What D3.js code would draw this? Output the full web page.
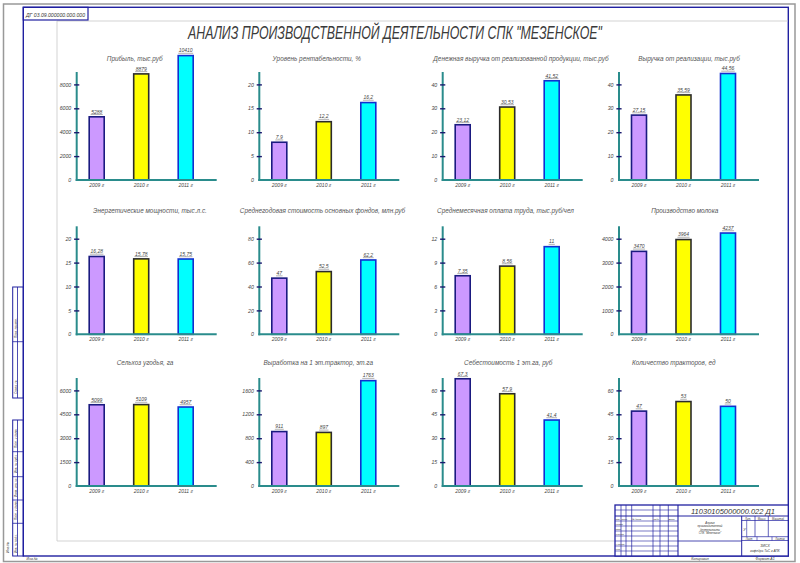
<!DOCTYPE html>
<html>
<head>
<meta charset="utf-8">
<script src="https://cdn.jsdelivr.net/npm/d3@7/dist/d3.min.js"></script>
<style>
    body { margin: 0; background: #fff; }
    text { font-family: "Liberation Sans", Arial, sans-serif; font-style: italic; }
</style>
</head>
<body>
<svg id="sheet" width="800" height="563"></svg>
<script>

// ---- data ----
const sheetTitle = "АНАЛИЗ ПРОИЗВОДСТВЕННОЙ ДЕЯТЕЛЬНОСТИ СПК \"МЕЗЕНСКОЕ\"";
const years = ["2009 г", "2010 г", "2011 г"];

const chartTitles = [
    "Прибыль, тыс.руб",
    "Уровень рентабельности, %",
    "Денежная выручка от реализованной продукции, тыс.руб",
    "Выручка от реализации, тыс.руб",
    "Энергетические мощности, тыс.л.с.",
    "Среднегодовая стоимость основных фондов, млн.руб",
    "Среднемесячная оплата труда, тыс.руб/чел",
    "Производство молока",
    "Сельхоз угодья, га",
    "Выработка на 1 эт.трактор, эт.га",
    "Себестоимость 1 эт.га, руб",
    "Количество тракторов, ед"
];

const profit = [5288, 8879, 10410];
const profitability = [7.9, 12.2, 16.2];
const salesProceeds = [23.12, 30.53, 41.52];
const revenue = [27.15, 35.59, 44.56];
const enginePower = [16.28, 15.78, 15.75];
const fixedAssets = [47, 52.5, 62.2];
const monthlyPay = [7.35, 8.56, 11];
const milkOutput = [3470, 3964, 4237];
const farmland = [5099, 5109, 4957];
const tractorOutput = [911, 897, 1763];
const costPerHa = [67.3, 57.9, 41.4];
const tractorCount = [47, 53, 50];

const chartValues = [profit, profitability, salesProceeds, revenue,
    enginePower, fixedAssets, monthlyPay, milkOutput,
    farmland, tractorOutput, costPerHa, tractorCount];

// y tick step of every chart (four ticks above zero)
const tickSteps = [2000, 5, 10, 10, 5, 20, 3, 1000, 1500, 400, 15, 15];

const barFills = ["#cc99ff", "#ffff00", "#00ffff"];
const barStrokes = ["#1a1a80", "#2b2b2b", "#1030d0"];


// ---- layout of the sheet ----
const colAxisX = [76.7, 259.3, 442.7, 619];
const rowBaseY = [180, 334.3, 486];
const titleCx = [134.7, 316.7, 521, 689, 150, 322.5, 505.5, 684.7, 145, 318.3, 508.3, 673.8];
const titleY = [61, 212.5, 365];
const tickGap = 23.9;
const axisColor = "#2a8c8c";
const tickColor = "#1a1a6e";
const frameBlue = "#2020a0";

const svg = d3.select("#sheet");

drawFrame();

svg.append("text")
    .attr("x", 188)
    .attr("y", 38.5)
    .attr("textLength", 414)
    .attr("lengthAdjust", "spacingAndGlyphs")
    .attr("font-size", 18)
    .attr("fill", "#3a3a3a")
    .text(sheetTitle);

chartValues.forEach((values, i) => drawChart(i, values));


function drawChart(i, values) {
    const col = i % 4;
    const row = Math.floor(i / 4);
    const ax = colAxisX[col];
    const base = rowBaseY[row];
    const step = tickSteps[i];

    const g = svg.append("g");

    const yScale = d3.scaleLinear()
        .domain([0, step * 4])
        .range([base, base - tickGap * 4]);

    const xScale = d3.scalePoint()
        .domain(years)
        .range([ax + 20, ax + 109]);

    g.append("text")
        .attr("x", titleCx[i])
        .attr("y", titleY[row])
        .attr("text-anchor", "middle")
        .attr("font-size", 6.4)
        .attr("fill", "#555")
        .text(chartTitles[i]);

    // bars
    g.selectAll("rect.bar")
        .data(values)
        .enter()
        .append("rect")
        .attr("class", "bar")
        .attr("x", (d, j) => xScale(years[j]) - 7.5)
        .attr("width", 15)
        .attr("y", d => yScale(d))
        .attr("height", d => base - yScale(d))
        .attr("fill", (d, j) => barFills[j])
        .attr("stroke", (d, j) => barStrokes[j])
        .attr("stroke-width", 1.6);

    // value labels with a short shelf line under them
    values.forEach((v, j) => {
        const label = g.append("text")
            .attr("x", xScale(years[j]))
            .attr("y", yScale(v) - 3.2)
            .attr("text-anchor", "middle")
            .attr("font-size", 5)
            .attr("fill", "#444")
            .text(String(v).replace(".", ","));
        const w = label.node().getComputedTextLength();
        g.append("line")
            .attr("x1", xScale(years[j]) - w / 2 - 0.5)
            .attr("x2", xScale(years[j]) + w / 2 + 0.5)
            .attr("y1", yScale(v) - 2.3)
            .attr("y2", yScale(v) - 2.3)
            .attr("stroke", "#666")
            .attr("stroke-width", 0.5);
    });

    // axes
    g.append("line")
        .attr("x1", ax).attr("x2", ax)
        .attr("y1", base + 1).attr("y2", base - 108)
        .attr("stroke", axisColor).attr("stroke-width", 2);
    g.append("line")
        .attr("x1", ax - 1).attr("x2", ax + 140)
        .attr("y1", base).attr("y2", base)
        .attr("stroke", axisColor).attr("stroke-width", 2);

    const yAxis = g.append("g")
        .attr("transform", `translate(${ax},0)`)
        .call(d3.axisLeft(yScale)
            .tickValues(d3.range(0, step * 5, step))
            .tickSize(0)
            .tickPadding(5.5)
            .tickFormat(d => d));
    yAxis.select(".domain").remove();
    yAxis.selectAll(".tick text")
        .attr("font-size", 5.2)
        .attr("fill", "#444")
        .style("font-family", "Liberation Sans, Arial, sans-serif")
        .style("font-style", "italic");
    yAxis.selectAll(".tick")
        .filter(d => d > 0)
        .append("line")
        .attr("x1", -2.6).attr("x2", 2.6)
        .attr("stroke", tickColor).attr("stroke-width", 1.4);

    g.selectAll("text.year")
        .data(years)
        .enter()
        .append("text")
        .attr("class", "year")
        .attr("x", d => xScale(d))
        .attr("y", base + 6.5)
        .attr("text-anchor", "middle")
        .attr("font-size", 5)
        .attr("fill", "#444")
        .text(d => d);
}


function line(x1, y1, x2, y2, color, w) {
    svg.append("line")
        .attr("x1", x1).attr("y1", y1).attr("x2", x2).attr("y2", y2)
        .attr("stroke", color).attr("stroke-width", w);
}

function label(x, y, size, txt, anchor, rotate) {
    const t = svg.append("text")
        .attr("x", x).attr("y", y)
        .attr("font-size", size)
        .attr("fill", "#333")
        .attr("text-anchor", anchor || "start")
        .text(txt);
    if (rotate) t.attr("transform", `rotate(-90, ${x}, ${y})`);
    return t;
}


function drawFrame() {
    // sheet edge
    svg.append("rect")
        .attr("x", 3.5).attr("y", 4).attr("width", 791.5).attr("height", 557.5)
        .attr("fill", "none").attr("stroke", "#999").attr("stroke-width", 1.5);

    // drawing frame
    svg.append("rect")
        .attr("x", 23.3).attr("y", 7.3).attr("width", 765).attr("height", 548.7)
        .attr("fill", "none").attr("stroke", frameBlue).attr("stroke-width", 1.4);

    // thin inner field
    line(57, 21, 788, 21, "#c8c8c8", 0.8);
    line(57, 21, 57, 541, "#c8c8c8", 0.8);
    line(57, 541, 615, 541, "#c8c8c8", 0.8);

    // top-left stamp box
    svg.append("rect")
        .attr("x", 23.3).attr("y", 7.3).attr("width", 64.7).attr("height", 12.7)
        .attr("fill", "none").attr("stroke", frameBlue).attr("stroke-width", 1.2);
    label(26, 16.5, 5, "ДГ 03.09.000000.000.000").attr("textLength", 59).attr("lengthAdjust", "spacingAndGlyphs");

    // left margin strip
    [[287, 398, [341.7]], [420, 556, [451.7, 476.7, 500, 523.3]]].forEach(([y0, y1, cuts]) => {
        svg.append("rect")
            .attr("x", 12.7).attr("y", y0).attr("width", 10.6).attr("height", y1 - y0)
            .attr("fill", "none").attr("stroke", frameBlue).attr("stroke-width", 1);
        line(17.5, y0, 17.5, y1, frameBlue, 0.8);
        cuts.forEach(c => line(12.7, c, 23.3, c, frameBlue, 0.8));
    });
    label(16.5, 338, 3, "Перв. примен.", "start", true);
    label(16.5, 394, 3, "Справ. №", "start", true);
    label(16.5, 448, 3, "Подп. и дата", "start", true);
    label(16.5, 473, 3, "Инв. № дубл.", "start", true);
    label(16.5, 497, 3, "Взам. инв. №", "start", true);
    label(16.5, 520, 3, "Подп. и дата", "start", true);
    label(16.5, 553, 3, "Инв. № подл.", "start", true);
    label(9, 553, 3.5, "Инв.№", "start", true);

    // title block
    const bx0 = 615, bx1 = 788.3, by0 = 505, by1 = 556;
    svg.append("rect")
        .attr("x", bx0).attr("y", by0).attr("width", bx1 - bx0).attr("height", by1 - by0)
        .attr("fill", "#fff").attr("stroke", frameBlue).attr("stroke-width", 1.3);
    line(bx0, 516, bx1, 516, frameBlue, 1);
    line(678, by0, 678, by1, frameBlue, 1.1);
    [621, 626, 631.7, 653, 660, 668.3].forEach(x => line(x, by0, x, by1, frameBlue, 0.7));
    [510, 521, 526, 531, 536, 541, 546, 551].forEach(y => line(bx0, y, 678, y, frameBlue, 0.6));
    line(741.7, 516, 741.7, by1, frameBlue, 1);
    line(678, 541, 741.7, 541, frameBlue, 0.8);
    line(741.7, 520.5, bx1, 520.5, frameBlue, 0.7);
    line(741.7, 536.7, bx1, 536.7, frameBlue, 0.7);
    line(741.7, 540.5, bx1, 540.5, frameBlue, 0.7);
    [755, 768.3].forEach(x => line(x, 516, x, 536.7, frameBlue, 0.7));
    line(746.7, 520.5, 746.7, 536.7, frameBlue, 0.6);
    [757, 772].forEach(x => line(x, 536.7, x, 540.5, frameBlue, 0.6));

    label(733, 513.5, 7.5, "11030105000000.022 Д1", "middle");
    label(710, 523.5, 2.8, "Анализ", "middle");
    label(710, 527, 2.8, "производственной", "middle");
    label(710, 530.5, 2.8, "деятельности", "middle");
    label(710, 534, 2.8, "СПК \"Мезенское\"", "middle");
    label(748, 519.5, 2.6, "Лит.", "middle");
    label(761.5, 519.5, 2.6, "Масса", "middle");
    label(778, 519.5, 2.6, "Масштаб", "middle");
    label(744.5, 531, 4, "У", "middle");
    label(749, 539.5, 2.6, "Лист", "middle");
    label(780, 539.5, 2.6, "Листов", "middle");
    label(765, 546.5, 3.5, "ЗИСХ", "middle");
    label(765, 551.5, 3.2, "кафедра ТиС в АПК", "middle");

    const leftLabels = ["Изм.", "Лист", "№ докум.", "Подп.", "Дата"];
    [615.5, 621.5, 632, 653.5, 668.8].forEach((x, k) => label(x, 519.5, 2.2, leftLabels[k]));
    ["Разраб.", "Пров.", "Т.контр.", "", "Н.контр.", "Утв."].forEach((s, k) =>
        label(615.5, 524.8 + k * 5, 2.2, s));

    label(700, 560, 3.5, "Копировал", "middle");
    label(765, 560, 3.5, "Формат  A1", "middle");
    label(32, 560, 3.5, "Инв.№", "middle");
}

</script>
</body>
</html>
